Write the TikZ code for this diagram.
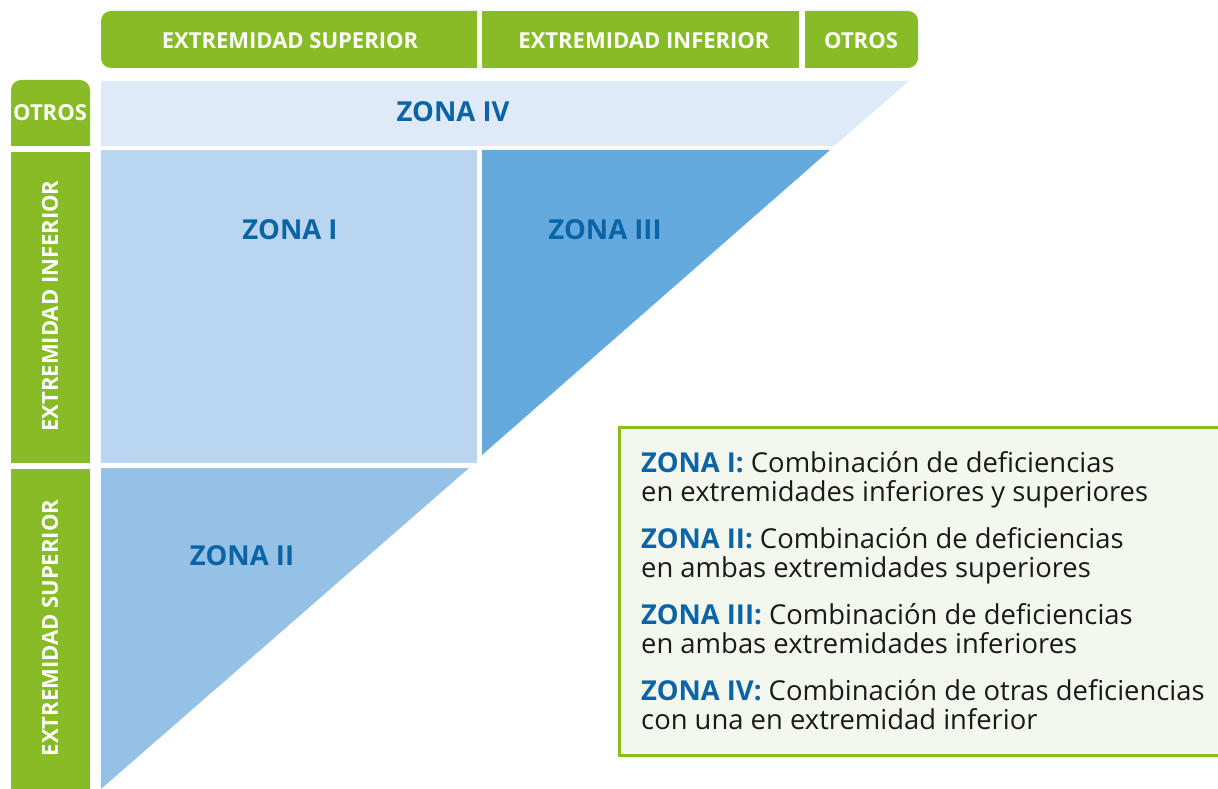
\documentclass[tikz,border=0pt]{standalone}
\usepackage{fontspec}
\setmainfont{Open Sans}
\definecolor{grn}{HTML}{88BC27}
\definecolor{zfour}{HTML}{DEEAF7}
\definecolor{zone}{HTML}{B9D5EF}
\definecolor{ztwo}{HTML}{95C1E7}
\definecolor{zthree}{HTML}{64AADE}
\definecolor{zt}{HTML}{0A64A5}
\definecolor{legfill}{HTML}{F4F7EE}
\definecolor{txt}{HTML}{1A1A1A}
\tikzset{
  hdr/.style={text=white,font=\bfseries\fontsize{22}{24}\selectfont,inner sep=0pt},
  zlab/.style={text=zt,font=\bfseries\fontsize{27.5}{30}\selectfont,inner sep=0pt},
  legtxt/.style={text=txt,font=\fontsize{27.4}{28.8}\selectfont,align=left,inner sep=0pt,anchor=base west},
}
\newcommand{\zn}[1]{\textcolor{zt}{\bfseries #1}}
\begin{document}
\begin{tikzpicture}[x=1pt,y=-1pt]
\clip (0,0) rectangle (1218,789);
\fill[white] (0,0) rectangle (1218,789);
% header row
\fill[grn] (289,11) [rounded corners=10pt] -- (101,11) -- (101,68) -- (289,68) [sharp corners] -- (477,68) -- (477,11) -- cycle;
\fill[grn] (482,11) rectangle (799,68);
\fill[grn] (861,68) [rounded corners=10pt] -- (918,68) -- (918,11) -- (861,11) [sharp corners] -- (805,11) -- (805,68) -- cycle;
\node[hdr] (h1) at (290,41) {EXTREMIDAD SUPERIOR};
\node[hdr] (h2) at (644,41) {EXTREMIDAD INFERIOR};
\node[hdr] (h3) at (861,41) {OTROS};
% left column
\fill[grn] (11,113) [rounded corners=10pt] -- (11,80) -- (90,80) -- (90,113) [sharp corners] -- (90,146) -- (11,146) -- cycle;
\fill[grn] (11,152) rectangle (90,463);
\fill[grn] (11,469) rectangle (90,795);
\node[hdr] (v1) at (50,113) {OTROS};
\node[hdr,rotate=90] (v2) at (50,306) {EXTREMIDAD INFERIOR};
\node[hdr,rotate=90] (v3) at (50,628) {EXTREMIDAD SUPERIOR};
% zones
\fill[zfour] (101,81) -- (909,81) -- (834,146) -- (101,146) -- cycle;
\fill[zone] (101,150) rectangle (477,463);
\fill[zthree] (482,150) -- (830,150) -- (482,455) -- cycle;
\fill[ztwo] (101,468) -- (469,468) -- (101,789) -- cycle;
\node[zlab] (z4) at (453,112) {ZONA IV};
\node[zlab] (z1) at (290,230) {ZONA I};
\node[zlab] (z3) at (605,230) {ZONA III};
\node[zlab] (z2) at (242,556) {ZONA II};
% legend
\draw[grn,line width=3pt,fill=legfill] (619,427) rectangle (1240,755);
\node[legtxt] (l1) at (641,501) {\zn{ZONA I:} Combinación de deficiencias\\en extremidades inferiores y superiores};
\node[legtxt] (l2) at (641,577) {\zn{ZONA II:} Combinación de deficiencias\\en ambas extremidades superiores};
\node[legtxt] (l3) at (641,653) {\zn{ZONA III:} Combinación de deficiencias\\en ambas extremidades inferiores};
\node[legtxt] (l4) at (641,729) {\zn{ZONA IV:} Combinación de otras deficiencias\\con una en extremidad inferior};
\end{tikzpicture}
\end{document}
